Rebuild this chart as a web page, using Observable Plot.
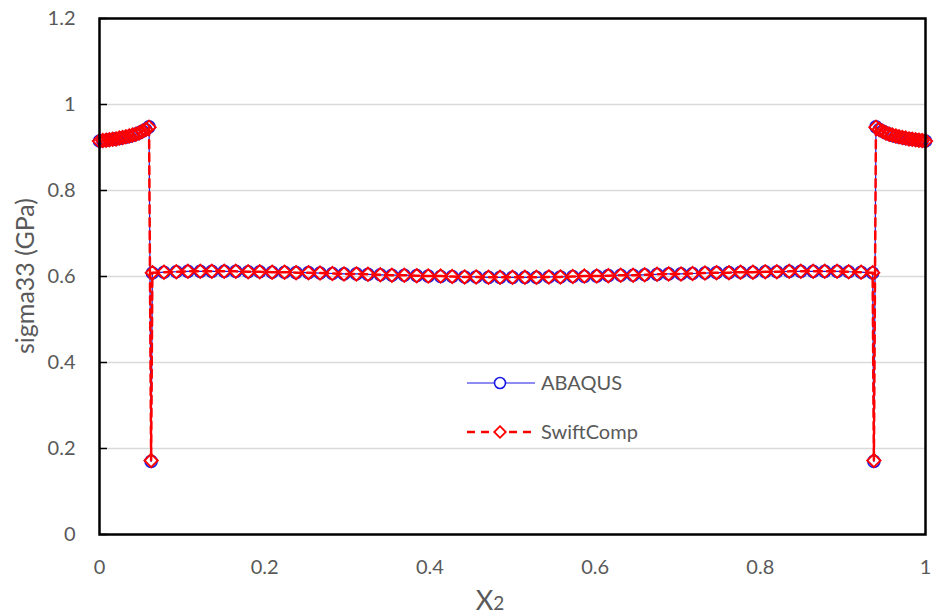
<!DOCTYPE html>
<html><head><meta charset="utf-8">
<script src="https://cdn.jsdelivr.net/npm/d3@7"></script>
<script src="https://cdn.jsdelivr.net/npm/@observablehq/plot@0.6"></script>
<style>
body{margin:0;background:#fff}
#chart{position:relative;width:934px;height:615px}
</style>
</head><body><div id="chart"></div>
<script>
// x2 positions (shared by both series)
const xValues = [
  0, 0.004, 0.008, 0.012, 0.016, 0.020, 0.024, 0.028, 0.032, 0.036, 0.040, 0.044, 0.048, 0.052, 0.056, 0.060,
  0.0625,
  0.064, 0.078, 0.093, 0.107, 0.122, 0.136, 0.151, 0.165, 0.180, 0.194, 0.209, 0.224, 0.238, 0.253, 0.267, 0.282,
  0.296, 0.311, 0.325, 0.340, 0.354, 0.369, 0.384, 0.398, 0.413, 0.427, 0.442, 0.456, 0.471, 0.485, 0.500,
  0.515, 0.529, 0.544, 0.558, 0.573, 0.587, 0.602, 0.616, 0.631, 0.646, 0.660, 0.675, 0.689, 0.704, 0.718,
  0.733, 0.747, 0.762, 0.776, 0.791, 0.806, 0.820, 0.835, 0.849, 0.864, 0.878, 0.893, 0.907, 0.922, 0.936,
  0.9375,
  0.940, 0.944, 0.948, 0.952, 0.956, 0.960, 0.964, 0.968, 0.972, 0.976, 0.980, 0.984, 0.988, 0.992, 0.996, 1.000
];
const abaqusValues = [
  0.915, 0.916, 0.917, 0.918, 0.919, 0.920, 0.921, 0.923, 0.924, 0.926, 0.928, 0.931, 0.934, 0.938, 0.942, 0.948,
  0.170,
  0.608, 0.610, 0.611, 0.612, 0.612, 0.612, 0.612, 0.612, 0.611, 0.611, 0.610, 0.610, 0.609, 0.609, 0.608, 0.607,
  0.606, 0.606, 0.605, 0.604, 0.603, 0.603, 0.602, 0.601, 0.600, 0.600, 0.599, 0.599, 0.598, 0.598, 0.598,
  0.598, 0.598, 0.599, 0.599, 0.600, 0.600, 0.601, 0.602, 0.603, 0.603, 0.604, 0.605, 0.606, 0.606, 0.607,
  0.608, 0.609, 0.609, 0.610, 0.610, 0.611, 0.611, 0.612, 0.612, 0.612, 0.612, 0.612, 0.611, 0.610, 0.608,
  0.170,
  0.948, 0.942, 0.938, 0.934, 0.931, 0.928, 0.926, 0.924, 0.923, 0.921, 0.920, 0.919, 0.918, 0.917, 0.916, 0.915
];
const swiftValues = [
  0.915, 0.916, 0.917, 0.918, 0.919, 0.920, 0.922, 0.923, 0.925, 0.927, 0.929, 0.931, 0.934, 0.938, 0.942, 0.947,
  0.172,
  0.609, 0.610, 0.611, 0.612, 0.612, 0.612, 0.612, 0.612, 0.611, 0.611, 0.610, 0.610, 0.609, 0.609, 0.608, 0.607,
  0.606, 0.606, 0.605, 0.604, 0.603, 0.603, 0.602, 0.601, 0.601, 0.600, 0.599, 0.599, 0.598, 0.598, 0.598,
  0.598, 0.598, 0.599, 0.599, 0.600, 0.601, 0.601, 0.602, 0.603, 0.603, 0.604, 0.605, 0.606, 0.606, 0.607,
  0.608, 0.609, 0.609, 0.610, 0.610, 0.611, 0.611, 0.612, 0.612, 0.612, 0.612, 0.612, 0.611, 0.610, 0.609,
  0.172,
  0.947, 0.942, 0.938, 0.934, 0.931, 0.929, 0.927, 0.925, 0.923, 0.922, 0.920, 0.919, 0.918, 0.917, 0.916, 0.915
];
const seriesNames = ["ABAQUS", "SwiftComp"];
const yTicks = [0, 0.2, 0.4, 0.6, 0.8, 1.0, 1.2];
const yTickLabels = ["0", "0.2", "0.4", "0.6", "0.8", "1", "1.2"];
const xTicks = [0, 0.2, 0.4, 0.6, 0.8, 1.0];
const xTickLabels = ["0", "0.2", "0.4", "0.6", "0.8", "1"];
const yTitle = "sigma33 (GPa)";
const xTitleMain = "X", xTitleSub = "2";

const abaqus = xValues.map((x, i) => ({x, y: abaqusValues[i]}));
const swift = xValues.map((x, i) => ({x, y: swiftValues[i]}));

const BLUE = "#1a1ae6", RED = "#ff0000", GREY = "#595959";
const FONT = "Lato, 'Open Sans', sans-serif";
const W = 934, H = 615, ML = 99, MR = 9, MT = 18, MB = 81;

const plot = Plot.plot({
  width: W, height: H,
  marginLeft: ML, marginRight: MR, marginTop: MT, marginBottom: MB,
  style: {fontFamily: FONT, fontSize: "20px", background: "white", overflow: "visible"},
  x: {domain: [0, 1]},
  y: {domain: [0, 1.2]},
  marks: [
    Plot.gridY(yTicks, {stroke: "#d9d9d9", strokeOpacity: 1, strokeWidth: 1.3}),
    Plot.axisY(yTicks, {tickSize: 0, tickPadding: 24, fill: GREY, fontSize: 20, label: null,
      tickFormat: d => yTickLabels[yTicks.indexOf(d)]}),
    Plot.axisX(xTicks, {tickSize: 0, tickPadding: 25, fill: GREY, fontSize: 20, label: null,
      tickFormat: d => xTickLabels[xTicks.indexOf(d)]}),
    Plot.ruleY(yTicks, {stroke: "black", strokeWidth: 1.5, insetRight: W - ML - MR - 8}),
    Plot.line(abaqus, {x: "x", y: "y", stroke: BLUE, strokeWidth: 1.2}),
    Plot.dot(abaqus, {x: "x", y: "y", r: 6, stroke: BLUE, strokeWidth: 1.6, fill: "none"}),
    Plot.line(swift, {x: "x", y: "y", stroke: RED, strokeWidth: 2.5, strokeDasharray: "8,5"}),
    Plot.dot(swift, {x: "x", y: "y", symbol: "diamond2", r: 6, stroke: RED, strokeWidth: 1.9, fill: "none"}),
    Plot.frame({stroke: "black", strokeWidth: 2.5})
  ]
});
document.getElementById("chart").appendChild(plot);

const svg = d3.select(plot);
// y-axis title
svg.append("text")
  .attr("transform", `translate(28,${(MT + H - MB) / 2}) rotate(-90)`)
  .attr("text-anchor", "middle").attr("dominant-baseline", "middle")
  .attr("fill", GREY).style("font-size", "25px").style("font-family", FONT)
  .text(yTitle);
// x-axis title X2
const xt = svg.append("text")
  .attr("x", 490).attr("y", 610)
  .attr("text-anchor", "middle").attr("fill", GREY)
  .style("font-family", FONT);
xt.append("tspan").style("font-size", "27px").text(xTitleMain);
xt.append("tspan").style("font-size", "19px").text(xTitleSub);

// legend
const lg = svg.append("g").style("font-family", FONT);
const rows = [
  {name: seriesNames[0], y: 383, stroke: BLUE, width: 1.2, dash: null, sym: d3.symbolCircle, size: Math.PI * 5.5 * 5.5, sw: 1.6},
  {name: seriesNames[1], y: 432, stroke: RED, width: 2.5, dash: "8,6", sym: d3.symbolDiamond2, size: Math.PI * 5.2 * 5.2, sw: 1.8}
];
rows.forEach(r => {
  lg.append("line").attr("x1", 467).attr("x2", 535).attr("y1", r.y).attr("y2", r.y)
    .attr("stroke", r.stroke).attr("stroke-width", r.width).attr("stroke-dasharray", r.dash);
  lg.append("path").attr("d", d3.symbol(r.sym, r.size)()).attr("transform", `translate(500,${r.y})`)
    .attr("fill", "white").attr("stroke", r.stroke).attr("stroke-width", r.sw);
  lg.append("text").attr("x", 541).attr("y", r.y).attr("dy", "0.35em")
    .attr("text-anchor", "start")
    .attr("fill", GREY).style("font-size", "20px").text(r.name);
});
</script>
</body></html>
